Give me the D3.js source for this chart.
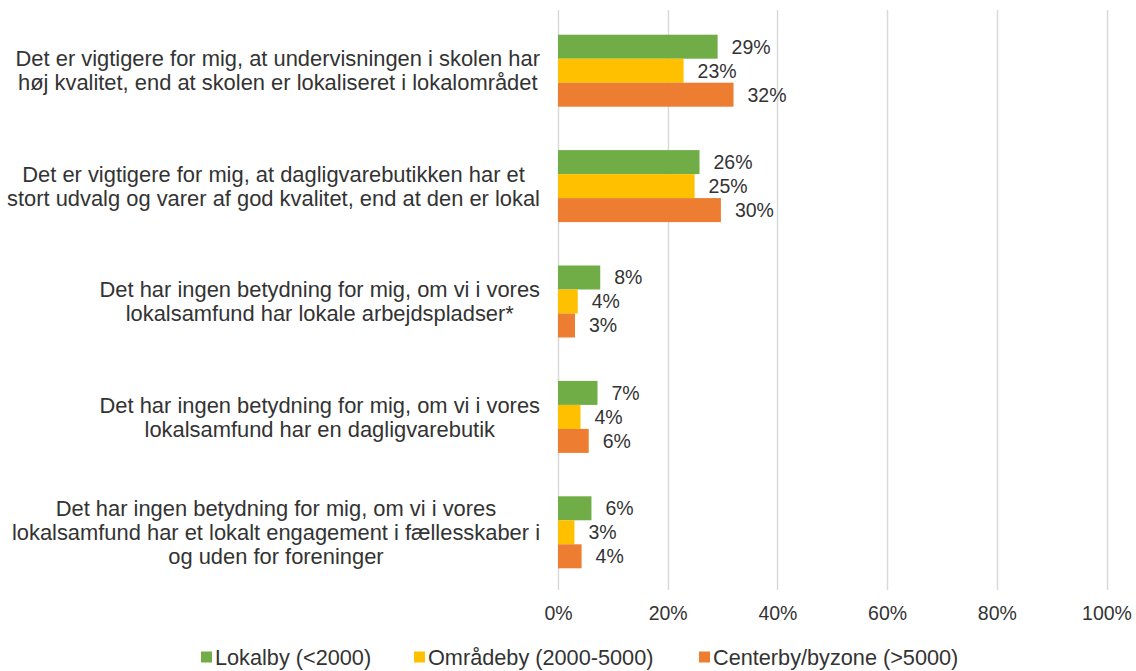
<!DOCTYPE html>
<html>
<head>
<meta charset="utf-8">
<script src="https://cdn.jsdelivr.net/npm/d3@7"></script>
<style>
  body { margin: 0; background: #fff; }
  text { font-family: "Liberation Sans", Arial, sans-serif; fill: #333333; }
</style>
</head>
<body>
<div id="chart"></div>
<script>
// data
var categories = [
    ["Det er vigtigere for mig, at undervisningen i skolen har", "høj kvalitet, end at skolen er lokaliseret i lokalområdet"],
    ["Det er vigtigere for mig, at dagligvarebutikken har et", "stort udvalg og varer af god kvalitet, end at den er lokal"],
    ["Det har ingen betydning for mig, om vi i vores", "lokalsamfund har lokale arbejdspladser*"],
    ["Det har ingen betydning for mig, om vi i vores", "lokalsamfund har en dagligvarebutik"],
    ["Det har ingen betydning for mig, om vi i vores", "lokalsamfund har et lokalt engagement i fællesskaber i", "og uden for foreninger"]
];
var seriesNames = ["Lokalby (<2000)", "Områdeby (2000-5000)", "Centerby/byzone (>5000)"];
var lokalby = [29.1, 25.8, 7.7, 7.2, 6.1];
var omraadeby = [22.9, 24.9, 3.6, 4.1, 3.0];
var centerby = [32.0, 29.7, 3.1, 5.6, 4.3];
var xTicks = [0, 20, 40, 60, 80, 100];
var colors = ["#70AD47", "#FFC000", "#ED7D31"];

var width = 1136, height = 671;
var svg = d3.select("#chart").append("svg")
    .attr("width", width).attr("height", height);

var x = d3.scaleLinear().domain([0, 100]).range([558, 1106.5]);
var y = d3.scaleBand()
    .domain(d3.range(categories.length))
    .range([13, 590])
    .paddingInner(0.376)
    .paddingOuter(0.188);
var ySub = d3.scaleBand()
    .domain([0, 1, 2])
    .range([0, y.bandwidth()]);

var allSeries = [lokalby, omraadeby, centerby];

// gridlines
svg.append("g").selectAll("line")
    .data(xTicks)
    .enter().append("line")
    .attr("x1", function (d) { return Math.round(x(d)) + 0.5; })
    .attr("x2", function (d) { return Math.round(x(d)) + 0.5; })
    .attr("y1", 10)
    .attr("y2", 590)
    .attr("stroke", "#d9d9d9")
    .attr("stroke-width", 1.5);

// x axis labels
var xAxis = svg.append("g")
    .attr("transform", "translate(0,603)")
    .call(d3.axisBottom(x).tickValues(xTicks).tickSize(0).tickFormat(function (d) { return d + "%"; }));
xAxis.select(".domain").remove();
xAxis.selectAll("text")
    .attr("font-size", "19.5px")
    .attr("font-family", "Liberation Sans, Arial, sans-serif")
    .attr("fill", "#333333")
    .attr("dy", "0.71em")
    .attr("y", 3);

// bars
var groups = svg.append("g").selectAll("g")
    .data(allSeries)
    .enter().append("g")
    .attr("fill", function (d, i) { return colors[i]; });

groups.each(function (vals, si) {
    var gg = d3.select(this);
    gg.selectAll("rect")
        .data(vals)
        .enter().append("rect")
        .attr("x", x(0))
        .attr("y", function (d, ci) { return y(ci) + ySub(si); })
        .attr("width", function (d) { return x(d) - x(0); })
        .attr("height", ySub.bandwidth());
    gg.selectAll("text")
        .data(vals)
        .enter().append("text")
        .attr("x", function (d) { return x(d) + 14; })
        .attr("y", function (d, ci) { return y(ci) + ySub(si) + ySub.bandwidth() / 2; })
        .attr("dy", "0.35em")
        .attr("font-size", "19.5px")
        .text(function (d) { return Math.round(d) + "%"; });
});

// category labels: block right aligned, lines centered in block
var lineH = 24;
categories.forEach(function (lines, ci) {
    var g = svg.append("g");
    var cy = y(ci) + y.bandwidth() / 2;
    var texts = g.selectAll("text")
        .data(lines)
        .enter().append("text")
        .attr("font-size", "21.9px")
        .attr("text-anchor", "middle")
        .attr("y", function (d, i) { return cy + (i - (lines.length - 1) / 2) * lineH; })
        .attr("dy", "0.35em")
        .text(function (d) { return d; });
    var maxW = 0;
    texts.each(function () { maxW = Math.max(maxW, this.getComputedTextLength()); });
    texts.attr("x", 540 - maxW / 2);
});

// legend
var legendX = [201, 414, 699];
var legend = svg.append("g").selectAll("g")
    .data(seriesNames)
    .enter().append("g")
    .attr("transform", function (d, i) { return "translate(" + legendX[i] + ",657)"; });
legend.append("rect")
    .attr("x", 0).attr("y", -5.5)
    .attr("width", 11).attr("height", 11)
    .attr("fill", function (d, i) { return colors[i]; });
legend.append("text")
    .attr("x", 14)
    .attr("dy", "0.35em")
    .attr("font-size", "21.7px")
    .text(function (d) { return d; });
</script>
</body>
</html>
